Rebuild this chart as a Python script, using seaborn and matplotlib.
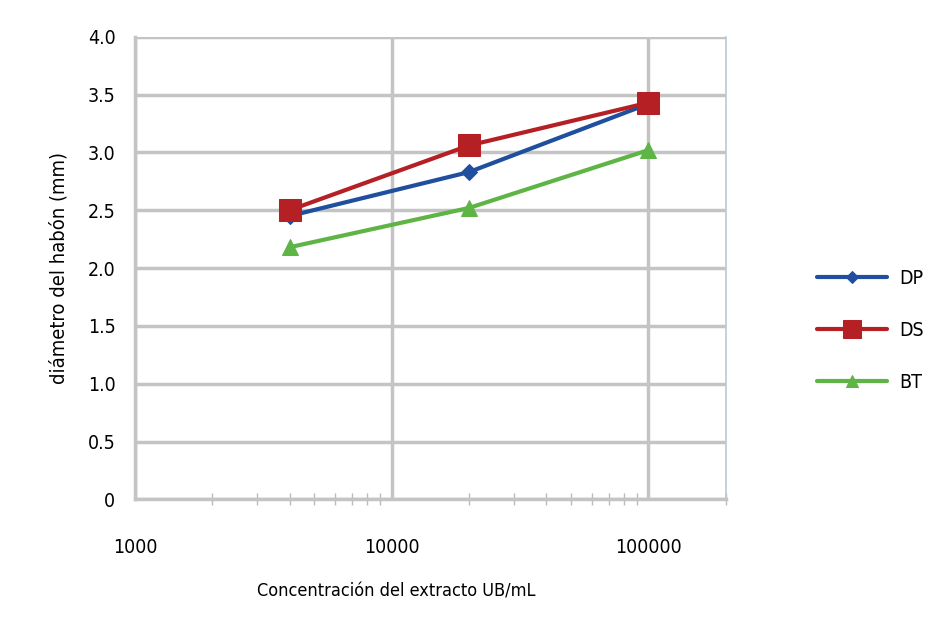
import numpy as np
import pandas as pd
import seaborn as sns
import matplotlib.pyplot as plt
from matplotlib import font_manager
from matplotlib.ticker import LogLocator, FixedLocator, NullFormatter

# concentraciones (UB/mL) y diametros
concentracion = [4000, 20000, 100000]
dp = [2.45, 2.83, 3.42]
ds = [2.50, 3.06, 3.43]
bt = [2.18, 2.52, 3.02]

series = ['DP', 'DS', 'BT']
colores = {'DP': '#1f4f9e', 'DS': '#b52025', 'BT': '#5fb446'}
marcadores = {'DP': 'D', 'DS': 's', 'BT': '^'}
tam_marcador = {'DP': 8, 'DS': 16, 'BT': 11}

y_ticks = [0, 0.5, 1.0, 1.5, 2.0, 2.5, 3.0, 3.5, 4.0]
y_labels = ['0', '0.5', '1.0', '1.5', '2.0', '2.5', '3.0', '3.5', '4.0']
x_ticks = [1000, 10000, 100000]

df = pd.DataFrame({
    'conc': concentracion * 3,
    'diam': dp + ds + bt,
    'serie': ['DP'] * 3 + ['DS'] * 3 + ['BT'] * 3,
})

sns.set_style('white')
names = {f.name for f in font_manager.fontManager.ttflist}
if 'Liberation Sans Narrow' in names:
    plt.rcParams['font.family'] = ['Liberation Sans Narrow', 'DejaVu Sans']
else:
    plt.rcParams['font.family'] = ['DejaVu Sans']
    plt.rcParams['font.stretch'] = 'condensed'
plt.rcParams['text.color'] = 'black'
plt.rcParams['axes.labelcolor'] = 'black'
plt.rcParams['xtick.labelcolor'] = 'black'
plt.rcParams['ytick.labelcolor'] = 'black'

fig = plt.figure(figsize=(9.5, 6.33), dpi=100)
ax = fig.add_axes([0.142, 0.211, 0.622, 0.731])

for s in series:
    sub = df[df['serie'] == s]
    sns.lineplot(data=sub, x='conc', y='diam', ax=ax, color=colores[s],
                 marker=marcadores[s], markersize=tam_marcador[s],
                 markeredgecolor=colores[s], linewidth=3, label=s)

ax.set_xscale('log')
ax.set_xlim(1000, 200000)
ax.set_ylim(0, 4.0)

ax.set_yticks(y_ticks)
ax.set_yticklabels(y_labels)
ax.xaxis.set_major_locator(FixedLocator(x_ticks))
ax.set_xticklabels([str(v) for v in x_ticks])
ax.xaxis.set_minor_locator(LogLocator(base=10, subs=np.arange(2, 10), numticks=20))
ax.xaxis.set_minor_formatter(NullFormatter())

ax.grid(True, which='major', color='#c4c4c4', linewidth=2.5)
ax.set_axisbelow(True)
ax.spines['top'].set_visible(False)
ax.spines['left'].set_color('#c4c4c4')
ax.spines['left'].set_linewidth(2.5)
ax.spines['bottom'].set_color('#c4c4c4')
ax.spines['bottom'].set_linewidth(2.5)
ax.spines['right'].set_color('#b8c8dc')
ax.spines['right'].set_linewidth(1.2)

ax.tick_params(axis='y', which='major', direction='out', length=6, width=1.5,
               color='#aaaaaa', labelsize=14, pad=8)
ax.tick_params(axis='x', which='major', length=0, labelsize=14, pad=28)
ax.tick_params(axis='x', which='minor', direction='inout', length=8, width=1,
               color='#bbbbbb', bottom=True)

ax.set_xlabel('Concentración del extracto UB/mL', fontsize=13)
ax.xaxis.set_label_coords(0.443, -0.18)
ax.set_ylabel('diámetro del habón (mm)', fontsize=14.5, labelpad=14)

leg = ax.legend(loc='center left', bbox_to_anchor=(0.842, 0.478),
                bbox_transform=fig.transFigure, frameon=False,
                fontsize=14, handlelength=3.6, labelspacing=1.7,
                handletextpad=0.6, markerscale=0.8)

fig.savefig('out.png', dpi=100)
